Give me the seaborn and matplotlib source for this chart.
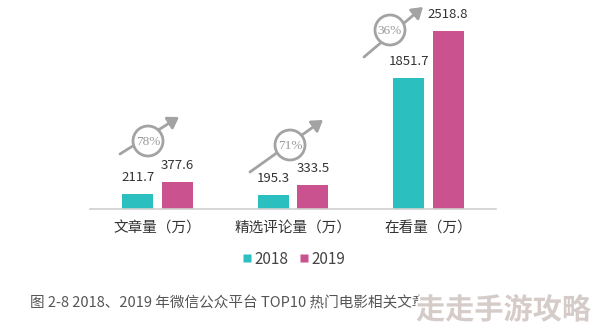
import matplotlib
matplotlib.use("Agg")
import matplotlib.pyplot as plt
import matplotlib.patheffects as pe
from matplotlib.patches import Circle, FancyArrowPatch
from matplotlib.lines import Line2D
import seaborn as sns
import pandas as pd

# Data
categories = ["文章量（万）", "精选评论量（万）", "在看量（万）"]
years = ["2018", "2019"]
values_2018 = [211.7, 195.3, 1851.7]
values_2019 = [377.6, 333.5, 2518.8]
growth_labels = ["78%", "71%", "36%"]
caption = "图 2-8 2018、2019 年微信公众平台 TOP10 热门电影相关文章"
watermark = "走走手游攻略"

colors = {"2018": "#2cbfbf", "2019": "#c9528f"}

df = pd.DataFrame({
    "category": categories * 2,
    "year": [years[0]] * 3 + [years[1]] * 3,
    "value": values_2018 + values_2019,
})

sns.set_theme(style="white")
plt.rcParams["font.family"] = ["Noto Sans CJK SC", "DejaVu Sans"]

W, H = 594, 329
fig = plt.figure(figsize=(W / 100, H / 100), dpi=100)
ax = fig.add_axes([90 / W, 120 / H, 406 / W, 205 / H])

sns.barplot(data=df, x="category", y="value", hue="year", palette=colors,
            width=0.583, gap=0.215, saturation=1, ax=ax, legend=False,
            edgecolor="none")

ax.set_xlim(-0.5, 2.5)
ax.set_ylim(0, 2900)
ax.set_xlabel("")
ax.set_ylabel("")
ax.set_yticks([])
for s in ["top", "right", "left"]:
    ax.spines[s].set_visible(False)
ax.spines["bottom"].set_color("#d0d0d0")
ax.spines["bottom"].set_linewidth(1.2)
ax.tick_params(axis="x", length=0, pad=9, labelsize=10.5, colors="#333333")

# Value labels above bars
for cont in ax.containers:
    for bar in cont:
        h = bar.get_height()
        ax.annotate(f"{h:.1f}", (bar.get_x() + bar.get_width() / 2, h),
                    xytext=(0, 12), textcoords="offset points",
                    ha="center", va="center", fontsize=9.5, color="#333333")

# Legend
handles = [Line2D([0], [0], marker="s", linestyle="none", markersize=6,
                  markerfacecolor=colors[y], markeredgecolor="none") for y in years]
fig.legend(handles, years, loc="center", bbox_to_anchor=(293 / W, 1 - 259 / H),
           ncol=2, frameon=False, fontsize=11, handletextpad=0.1,
           columnspacing=0.6, handlelength=0.8, labelcolor="#444444")

# Overlay in pixel coordinates for growth badges and caption
ov = fig.add_axes([0, 0, 1, 1], zorder=5)
ov.set_xlim(0, W)
ov.set_ylim(H, 0)
ov.axis("off")
ov.patch.set_alpha(0)

badges = [
    ((148, 141), (120, 154), (179, 117)),
    ((290, 145), (250, 172), (323, 120)),
    ((390, 30), (364, 57), (423, 7)),
]
grey = "#a3a3a3"
for (center, start, tip), lab in zip(badges, growth_labels):
    ov.add_patch(FancyArrowPatch(start, tip, arrowstyle="-|>,head_length=4,head_width=2.6",
                                 mutation_scale=1.6, color=grey, lw=2.0,
                                 shrinkA=0, shrinkB=0))
    ov.add_patch(Circle(center, 15, facecolor="white", edgecolor=grey, lw=2.0, zorder=3))
    ov.text(center[0], center[1] + 1, lab, ha="center", va="center",
            family="Liberation Serif", fontsize=9.5, color="#999999", zorder=4)

ov.text(30, 303, caption, ha="left", va="center", fontsize=10.5, color="#555555")
ov.text(416, 310, watermark, ha="left", va="center", fontsize=21, fontweight="bold",
        color="#d5ccc9",
        path_effects=[pe.withStroke(linewidth=3, foreground="white")])

fig.savefig("out.png", dpi=100, facecolor="white")
